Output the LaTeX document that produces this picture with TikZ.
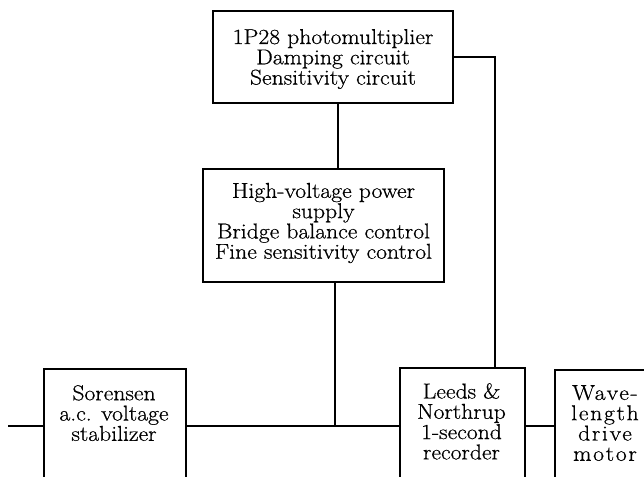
\documentclass[tikz,border=0pt]{standalone}
\usepackage{fontspec}
\newfontfamily\schfont{Latin Modern Roman}[FakeStretch=1.1, FakeBold=0.6]
\newfontfamily\schwide{Latin Modern Roman}[FakeStretch=1.1, FakeBold=0.6, LetterSpace=8]
\begin{document}
\begin{tikzpicture}[x=1pt,y=-1pt,
  box/.style={draw, line width=1.6pt, inner sep=0pt},
  wire/.style={draw, line width=1.6pt},
  lbl/.style={align=center, font=\schfont\fontsize{21.5}{20.3}\selectfont, inner sep=0pt},
  lblwide/.style={align=center, font=\schwide\fontsize{21.5}{20.3}\selectfont, inner sep=0pt}]
\useasboundingbox (0,0) rectangle (644,476);
\clip (0,0) rectangle (644,476);
% boxes
\node[box, minimum width=240, minimum height=92] (top) at (333,57) {};
\node[lbl] (toplbl) at (333,59) {1P28 photomultiplier\\Damping circuit\\Sensitivity circuit};
\node[box, minimum width=241, minimum height=113] (mid) at (323.5,225.5) {};
\node[lbl] (midlbl) at (323.5,223) {High-voltage power\\supply\\Bridge balance control\\Fine sensitivity control};
\node[box, minimum width=142, minimum height=160, anchor=north west] (sor) at (43,368) {};
\node[lbl, anchor=north] (sorlbl) at (114,385) {Sorensen\\a.c. voltage\\stabilizer};
\node[box, minimum width=125, minimum height=160, anchor=north west] (leeds) at (399,367) {};
\node[lbl, anchor=north] (leedslbl) at (461.5,383) {Leeds \&\\Northrup\\1-second\\recorder};
\node[box, minimum width=130, minimum height=160, anchor=north west] (wave) at (554,369) {};
\node[lblwide, anchor=north] (wavelbl) at (605,385) {Wave-\\length\\drive\\motor};
% helper coordinates
\coordinate (bus) at (0,426);
\coordinate (v1) at (338,0);
\coordinate (v2) at (335,0);
\coordinate (rx) at (495,0);
\coordinate (inp) at (8,426);
% connectors
\draw[wire] (top.south -| v1) -- (mid.north -| v1);
\draw[wire] (top.east) -| (leeds.north -| rx);
\draw[wire] (inp) -- (sor.west |- bus);
\draw[wire] (sor.east |- bus) -- (leeds.west |- bus);
\draw[wire] (mid.south -| v2) -- (bus -| v2);
\draw[wire] (leeds.east |- bus) -- (wave.west |- bus);
\end{tikzpicture}
\end{document}
